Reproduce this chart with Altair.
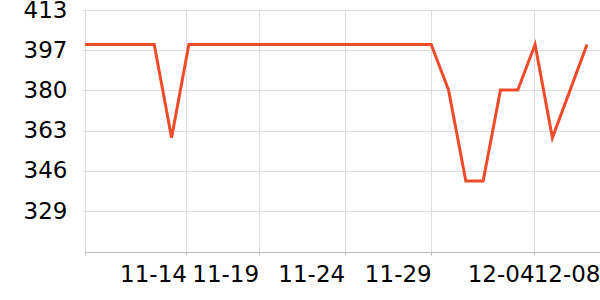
import altair as alt
import pandas as pd

# Daily values (30 points)
values = [399, 399, 399, 399, 399, 360, 399, 399, 399, 399,
          399, 399, 399, 399, 399, 399, 399, 399, 399, 399,
          399, 380, 342, 342, 380, 380, 399, 360, 379.5, 399]
index = list(range(len(values)))

# x-axis ticks (position along the index axis) and their labels
x_tick_pos = [0, 5.86, 10.03, 15, 20, 25.94, 29.75]
x_tick_labels = ["", "11-14", "11-19", "11-24", "11-29", "12-04", "12-08"]

# y-axis ticks (shown rounded)
y_ticks = [329.4, 346.2, 363.0, 379.8, 396.6, 413.4]
y_domain = [312.3, 413.4]
x_domain = [0, 29.75]

df = pd.DataFrame({"i": index, "v": values})

label_map = "{" + ",".join(f"'{p:g}':'{l}'" for p, l in zip(x_tick_pos, x_tick_labels)) + "}"

FS = 23

chart = alt.Chart(df).mark_line(color="#ee4b2b", strokeWidth=3, strokeJoin="miter").encode(
    x=alt.X("i:Q", scale=alt.Scale(domain=x_domain, nice=False, zero=False),
            axis=alt.Axis(values=x_tick_pos, title=None,
                          labelExpr=label_map + "[''+datum.value]",
                          labelAlign="right", labelBaseline="top",
                          labelFontSize=FS, labelFont="DejaVu Sans", labelColor="#000",
                          labelPadding=8, tickSize=3, tickColor="#bbb",
                          domainColor="#bbb", gridColor="#ddd",
                          labelFlush=False, labelOverlap=False, labelBound=False)),
    y=alt.Y("v:Q", scale=alt.Scale(domain=y_domain, nice=False, zero=False),
            axis=alt.Axis(values=y_ticks, title=None, format=".0f",
                          labelFontSize=FS, labelFont="DejaVu Sans", labelColor="#000",
                          labelPadding=15, tickSize=3, tickColor="#ddd",
                          domain=False, gridColor="#ddd",
                          labelFlush=False, labelOverlap=False, labelBound=False)),
).properties(
    width=515, height=242,
    padding={"left": 85, "top": 10, "right": 0, "bottom": 48},
    autosize=alt.AutoSizeParams(type="none"),
).configure_view(stroke=None)

chart.save("out.html", embed_options={"renderer": "svg", "actions": False})
